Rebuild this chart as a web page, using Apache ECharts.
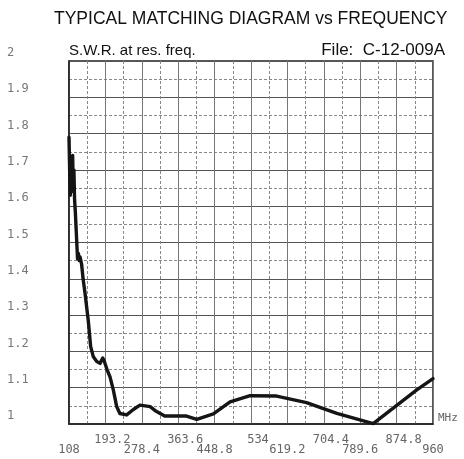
<!DOCTYPE html>
<html>
<head>
<meta charset="utf-8">
<script src="https://cdn.jsdelivr.net/npm/echarts@6/dist/echarts.min.js"></script>
<style>html,body{margin:0;padding:0;background:#fff;}#c{width:464px;height:459px;}</style>
</head>
<body>
<div id="c"></div>
<script>
var freq = [108,109.5,111,112.5,113.5,115,116.5,118,119.5,121,123,125,127,128,130,132,134,137.5,141,145.5,153,158.7,165,173,180.6,187,190,197,204,211.7,219.6,227,243,258.6,274,298,312,332,383,407,446,485,532,594,664,735,820,922,960];
var swr  = [1.79,1.70,1.63,1.71,1.64,1.72,1.74,1.65,1.70,1.62,1.58,1.53,1.48,1.455,1.47,1.45,1.46,1.44,1.40,1.36,1.286,1.213,1.185,1.172,1.167,1.182,1.175,1.15,1.13,1.094,1.048,1.029,1.025,1.040,1.052,1.048,1.035,1.022,1.022,1.013,1.028,1.061,1.078,1.077,1.059,1.029,1.001,1.094,1.125];
var xTickLabels = ['108','193.2','278.4','363.6','448.8','534','619.2','704.4','789.6','874.8','960'];
var yTickLabels = ['1','1.1','1.2','1.3','1.4','1.5','1.6','1.7','1.8','1.9','2'];
var titleText = 'TYPICAL MATCHING DIAGRAM vs FREQUENCY';
var subLeft = 'S.W.R. at res. freq.';
var subRight = 'File:  C-12-009A';
var xUnit = 'MHz';

var chart = echarts.init(document.getElementById('c'), null, {renderer: 'canvas'});
var pts = freq.map(function (f, i) { return [f, swr[i]]; });
var xMin = 108, xMax = 960, xStep = 85.2;

function xIndex(v) { return Math.round((v - xMin) / xStep); }

chart.setOption({
  animation: false,
  backgroundColor: '#fff',
  title: [
    {text: titleText, left: 49, top: 5, textStyle: {fontFamily: 'Liberation Sans, sans-serif', fontSize: 17.5, fontWeight: 'normal', color: '#111'}},
    {text: subLeft, left: 64, top: 38, textStyle: {fontFamily: 'Liberation Sans, sans-serif', fontSize: 15, fontWeight: 'normal', color: '#111'}},
    {text: subRight, right: 14, top: 37, textStyle: {fontFamily: 'Liberation Sans, sans-serif', fontSize: 17, fontWeight: 'normal', color: '#111'}}
  ],
  grid: {left: 69, right: 31, top: 61, bottom: 35, show: true, borderColor: '#222', borderWidth: 1.5, backgroundColor: 'transparent'},
  xAxis: {
    type: 'value', min: xMin, max: xMax, interval: xStep,
    name: xUnit, nameLocation: 'end', nameGap: 5,
    nameTextStyle: {fontFamily: 'DejaVu Sans Mono, monospace', fontSize: 11, color: '#666', verticalAlign: 'bottom', padding: [0, 0, 0, 0]},
    axisLine: {show: true, lineStyle: {color: '#222', width: 1.5}},
    axisTick: {show: false},
    axisLabel: {
      margin: 10, color: '#666', fontFamily: 'DejaVu Sans Mono, monospace', fontSize: 12,
      showMinLabel: true, showMaxLabel: true,
      formatter: function (v) {
        var i = xIndex(v);
        var t = xTickLabels[i];
        if (t === undefined) return '';
        return i % 2 === 0 ? '{lo|' + t + '}' : '{hi|' + t + '}';
      },
      rich: {
        lo: {padding: [10, 0, 0, 0], color: '#666', fontFamily: 'DejaVu Sans Mono, monospace', fontSize: 12},
        hi: {padding: [0, 0, 0, 14], color: '#666', fontFamily: 'DejaVu Sans Mono, monospace', fontSize: 12}
      }
    },
    splitLine: {show: true, lineStyle: {color: '#777', width: 1}},
    minorTick: {show: false, splitNumber: 2},
    minorSplitLine: {show: true, lineStyle: {color: '#888', width: 1, type: [3, 2]}}
  },
  yAxis: {
    type: 'value', min: 1, max: 2, interval: 0.1,
    axisLine: {show: true, lineStyle: {color: '#222', width: 1.5}},
    axisTick: {show: false},
    axisLabel: {
      margin: 62, align: 'left', verticalAlign: 'bottom', padding: [0, 0, 2, 0],
      color: '#777', fontFamily: 'DejaVu Sans Mono, monospace', fontSize: 12,
      formatter: function (v) {
        var i = Math.round((v - 1) * 10);
        return yTickLabels[i] === undefined ? '' : yTickLabels[i];
      }
    },
    splitLine: {show: true, lineStyle: {color: '#555', width: 1}},
    minorTick: {show: false, splitNumber: 2},
    minorSplitLine: {show: true, lineStyle: {color: '#888', width: 1, type: [3, 2]}}
  },
  series: [{
    type: 'line', data: pts, showSymbol: false, smooth: false,
    lineStyle: {color: '#151515', width: 3.4, join: 'round', cap: 'round'},
    z: 5
  }]
});
</script>
</body>
</html>
